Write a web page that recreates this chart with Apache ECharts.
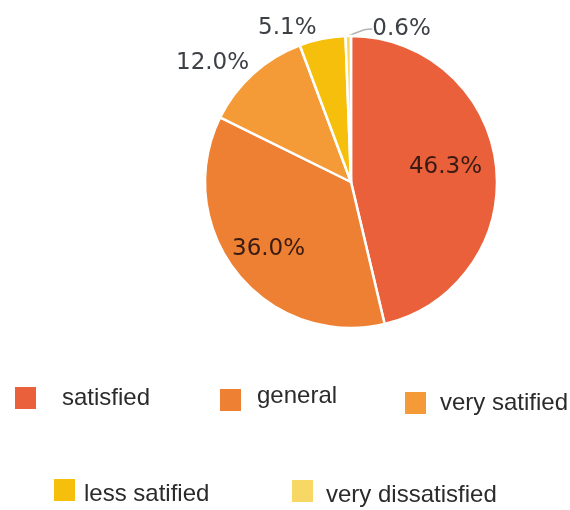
<!DOCTYPE html>
<html>
<head>
<meta charset="utf-8">
<script src="https://cdn.jsdelivr.net/npm/echarts@6/dist/echarts.min.js"></script>
<style>
  html, body { margin: 0; padding: 0; background: #ffffff; }
  #chart { width: 570px; height: 510px; }
</style>
</head>
<body>
<div id="chart"></div>
<script>
// ---- data ----
const categories = ['satisfied', 'general', 'very satified', 'less satified', 'very dissatisfied'];
const values = [46.3, 36.0, 12.0, 5.1, 0.6];

// ---- styles ----
const colors = ['#E9603B', '#ED8033', '#F49B38', '#F6BF0C', '#F7D865'];
const labelInside = [true, true, false, false, false];
// label nudges relative to library default label position (pixels)
const labelNudge = [[19, -6.5], [-23, 19.5], [1, -10.7], [-0.8, -10.8], [95.5, -7]];

const legendPlacement = [
  { left: 13, top: 385, padding: [0, 0, 0, 20] },
  { left: 218, top: 384, padding: [0, 0, 8, 10] },
  { left: 403, top: 390, padding: [0, 0, 0, 8] },
  { left: 52, top: 477, padding: [8, 0, 0, 3] },
  { left: 290, top: 478, padding: [8, 0, 0, 7] }
];

const chart = echarts.init(document.getElementById('chart'), null, { renderer: 'canvas' });

const seriesData = categories.map((name, i) => {
  const item = { name: name, value: values[i] };
  if (labelInside[i]) {
    item.label = { position: 'inside', color: '#3a1a12' };
  }
  if (i === categories.length - 1) {
    item.labelLine = {
      show: true, length: 0, length2: 8, smooth: 0.4,
      lineStyle: { color: '#b3b3b3', width: 1.5 }
    };
  }
  return item;
});

const legends = categories.map((name, i) => ({
  data: [name],
  left: legendPlacement[i].left,
  top: legendPlacement[i].top,
  padding: 0,
  icon: 'rect',
  itemWidth: 23,
  itemHeight: 24,
  formatter: n => '{t|' + n + '}',
  textStyle: {
    fontFamily: 'Liberation Sans, Arial, sans-serif',
    fontSize: 24,
    color: '#2b2b2b',
    rich: {
      t: {
        fontFamily: 'Liberation Sans, Arial, sans-serif',
        fontSize: 24,
        color: '#2b2b2b',
        padding: legendPlacement[i].padding
      }
    }
  }
}));

chart.setOption({
  backgroundColor: '#ffffff',
  color: colors,
  animation: false,
  legend: legends,
  series: [{
    type: 'pie',
    center: [351, 182],
    radius: [0, 146],
    startAngle: 90,
    clockwise: true,
    avoidLabelOverlap: false,
    itemStyle: { borderColor: '#ffffff', borderWidth: 2.5 },
    label: {
      show: true,
      position: 'outside',
      fontFamily: 'DejaVu Sans, sans-serif',
      fontSize: 23,
      color: '#3d4045',
      formatter: p => p.value.toFixed(1) + '%'
    },
    labelLine: { show: false, length: 0, length2: 0 },
    labelLayout: function (params) {
      const n = labelNudge[params.dataIndex];
      const r = params.labelRect;
      return {
        x: r.x + r.width / 2 + n[0],
        y: r.y + r.height / 2 + n[1],
        align: 'center',
        verticalAlign: 'middle'
      };
    },
    data: seriesData
  }]
});
</script>
</body>
</html>
